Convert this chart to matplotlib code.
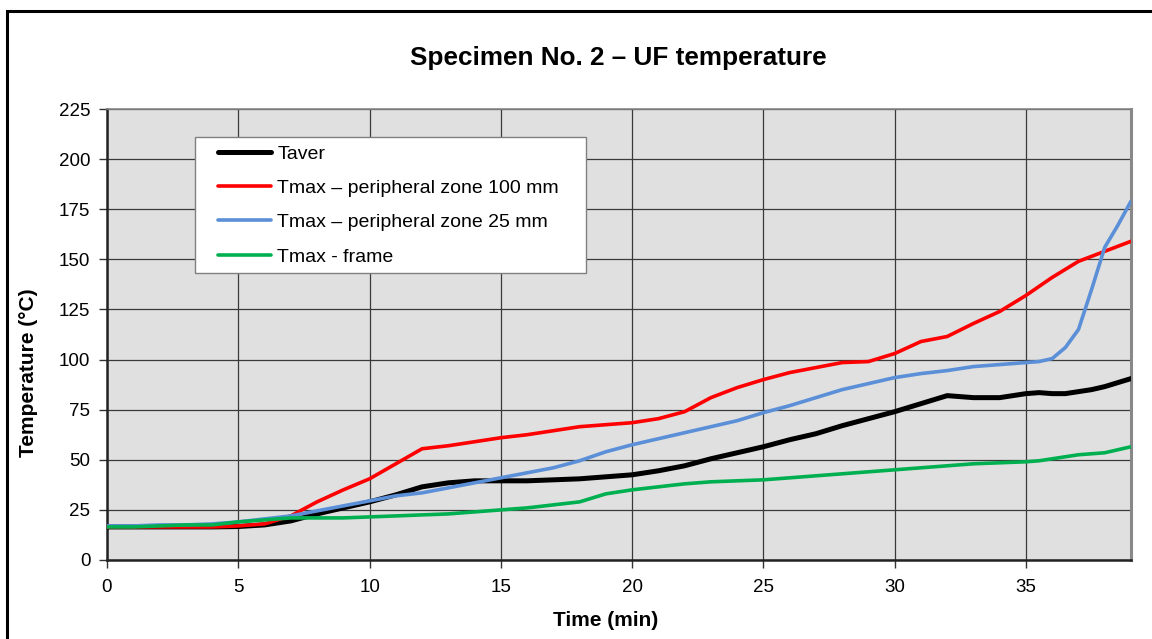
import matplotlib
matplotlib.use("Agg")
import matplotlib.pyplot as plt
from matplotlib.patches import Rectangle

plt.rcParams['font.family'] = ['Liberation Sans', 'DejaVu Sans']

time = [0, 1, 2, 3, 4, 5, 6, 7, 8, 9, 10, 11, 12, 13, 14, 15, 16, 17, 18, 19,
        20, 21, 22, 23, 24, 25, 26, 27, 28, 29, 30, 31, 32, 33, 34, 35,
        35.5, 36, 36.5, 37, 37.5, 38, 38.5, 39]

taver = [16.5, 16.5, 16.5, 16.5, 16.5, 16.7, 17.5, 19.5, 23, 26, 29, 32.5, 36.5, 38.5, 39.5, 39.5,
         39.5, 40, 40.5, 41.5, 42.5, 44.5, 47, 50.5, 53.5, 56.5, 60, 63, 67, 70.5, 74, 78, 82,
         81, 81, 83, 83.5, 83, 83, 84, 85, 86.5, 88.5, 90.5]

tmax_100 = [16.5, 16.5, 16.5, 16.5, 16.5, 17, 18, 22, 29, 35, 40.5, 48, 55.5, 57, 59, 61,
            62.5, 64.5, 66.5, 67.5, 68.5, 70.5, 74, 81, 86, 90, 93.5, 96, 98.5, 99, 103, 109,
            111.5, 118, 124, 132, 136.5, 141, 145, 149, 151.5, 154, 156.5, 159]

tmax_25 = [17, 17, 17.5, 17.5, 18, 19, 20.5, 22, 24.5, 27, 29.5, 32, 33.5, 36, 38.5, 41,
           43.5, 46, 49.5, 54, 57.5, 60.5, 63.5, 66.5, 69.5, 73.5, 77, 81, 85, 88, 91, 93,
           94.5, 96.5, 97.5, 98.5, 99, 100.5, 106, 115, 135, 156, 167, 179]

tmax_frame = [16.5, 16.5, 17, 17.5, 17.5, 19, 20, 21, 21, 21, 21.5, 22, 22.5, 23, 24, 25,
              26, 27.5, 29, 33, 35, 36.5, 38, 39, 39.5, 40, 41, 42, 43, 44, 45, 46,
              47, 48, 48.5, 49, 49.5, 50.5, 51.5, 52.5, 53, 53.5, 55, 56.5]

labels = ["Taver", "Tmax \u2013 peripheral zone 100 mm",
          "Tmax \u2013 peripheral zone 25 mm", "Tmax - frame"]
colors = ["#000000", "#ff0000", "#5b8fd8", "#00b050"]
widths = [3.6, 2.6, 2.6, 2.6]
xticks = [0, 5, 10, 15, 20, 25, 30, 35]
yticks = [0, 25, 50, 75, 100, 125, 150, 175, 200, 225]

W, H = 1152, 639
fig = plt.figure(figsize=(W / 100, H / 100), dpi=100)
fig.patch.set_facecolor("white")
AX_L, AX_R, AX_T, AX_B = 107, 1131, 109, 560
ax = fig.add_axes([AX_L / W, 1 - AX_B / H, (AX_R - AX_L) / W, (AX_B - AX_T) / H])
ax.set_facecolor("#e0e0e0")


def ax_x(px):
    return (px - AX_L) / (AX_R - AX_L)


def ax_y(py):
    return (AX_B - py) / (AX_B - AX_T)


for ys, lab, c, w in zip([taver, tmax_100, tmax_25, tmax_frame], labels, colors, widths):
    ax.plot(time, ys, color=c, lw=w, label=lab, solid_capstyle="round",
            solid_joinstyle="round", zorder=3)

ax.set_xlim(0, 39)
ax.set_ylim(0, 225)
ax.set_xticks(xticks)
ax.set_yticks(yticks)
ax.grid(True, color="#3a3a3a", lw=0.9, zorder=1)
ax.set_axisbelow(True)
ax.tick_params(axis="both", labelsize=13.5, direction="out", length=6, width=1, color="#333333")
ax.tick_params(axis="x", pad=8)
ax.tick_params(axis="y", pad=6)
for s in ["left", "bottom"]:
    ax.spines[s].set_color("#222222")
    ax.spines[s].set_linewidth(1.8)
ax.spines["right"].set_color("#888888")
ax.spines["right"].set_linewidth(2.2)
ax.spines["top"].set_color("#888888")
ax.spines["top"].set_linewidth(1.2)

ax.set_xlabel("Time (min)", fontsize=15, fontweight="bold")
ax.xaxis.set_label_coords(ax_x(606), ax_y(611))
ax.set_ylabel("Temperature (\u00b0C)", fontsize=15, fontweight="bold")
ax.yaxis.set_label_coords(ax_x(38), ax_y(373))
fig.text(618 / W, 1 - 58 / H, "Specimen No. 2 \u2013 UF temperature", fontsize=18.8,
         fontweight="bold", ha="center", va="center")

# legend frame
ax.add_patch(Rectangle((ax_x(195), ax_y(273)), ax_x(586) - ax_x(195), ax_y(137) - ax_y(273),
                       transform=ax.transAxes, facecolor="white", edgecolor="#808080",
                       lw=1.0, zorder=4))
leg = ax.legend(loc="upper left", bbox_to_anchor=(ax_x(218), ax_y(145)),
                fontsize=14, frameon=False, handlelength=2.75, handletextpad=0.3,
                labelspacing=0.86, borderpad=0, borderaxespad=0)
leg.set_zorder(5)

fig.patches.append(Rectangle((7 / W, -0.1), 1.2, 1 - 11 / H + 0.1, transform=fig.transFigure,
                             fill=False, edgecolor="black", lw=2.2, figure=fig))

fig.savefig("out.png", dpi=100)
